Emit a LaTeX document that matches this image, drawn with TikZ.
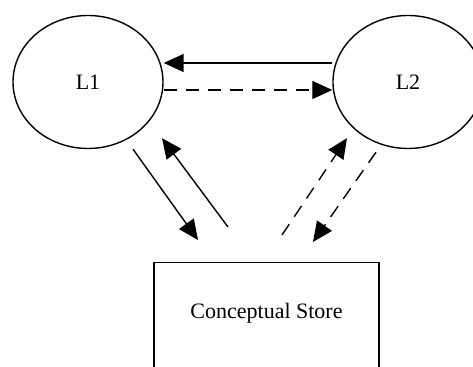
\documentclass[tikz,border=0pt]{standalone}
\usepackage{fontspec}
\setmainfont{Liberation Serif}
\usetikzlibrary{shapes.geometric, arrows.meta}

\begin{document}
\begin{tikzpicture}[x=0.5pt, y=-0.5pt, font=\fontsize{11}{13}\selectfont,
  lang/.style = {draw, ellipse, line width=0.7pt, minimum width=75pt, minimum height=66.5pt},
  link/.style = {line width=0.7pt, -{Triangle[length=10pt, width=9pt]}},
  weak/.style = {link, dash pattern=on 6.5pt off 4.5pt}]
\useasboundingbox (0,0) rectangle (473,367);
\clip (0,0) rectangle (473,367);
\node[lang] (l1) at (88,82) {L1};
\node[lang] (l2) at (408,82) {L2};
\node[draw, line width=0.7pt, anchor=north, minimum width=112.5pt, inner ysep=20pt, text height=8pt, text depth=40pt] (cs) at (266.5,262) {Conceptual Store};
\draw[link] ([yshift=9.5pt]l2.west) -- ([yshift=9.5pt]l1.east);
\draw[weak] ([yshift=-4pt]l1.east) -- ([yshift=-4pt]l2.west);
\draw[link] ([xshift=22.5pt]l1.south) -- ([xshift=-34.25pt, yshift=11pt]cs.north);
\draw[link] ([xshift=-19.25pt, yshift=17.5pt]cs.north) -- ([xshift=37pt, yshift=5.5pt]l1.south);
\draw[weak] ([xshift=7.75pt, yshift=13.5pt]cs.north) -- ([xshift=-30.5pt, yshift=5.5pt]l2.south);
\draw[weak] ([xshift=-16pt, yshift=-1.5pt]l2.south) -- ([xshift=23.25pt, yshift=10pt]cs.north);
\end{tikzpicture}
\end{document}
